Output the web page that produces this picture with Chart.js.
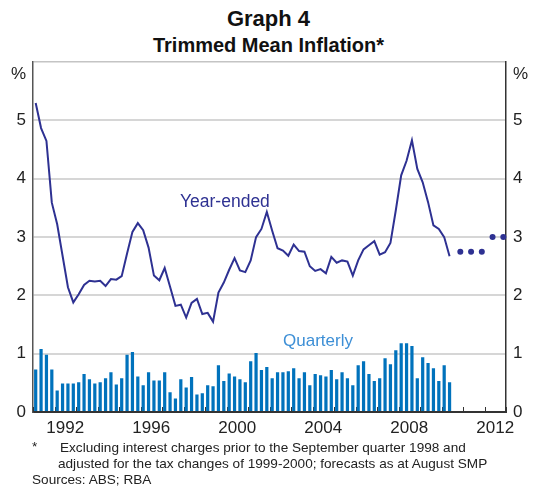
<!DOCTYPE html>
<html>
<head>
<meta charset="utf-8">
<script src="https://cdn.jsdelivr.net/npm/chart.js@4"></script>
<style>
  body { margin: 0; background: #fff; font-family: "Liberation Sans", Arial, sans-serif; color: #222; }
  #wrap { position: relative; width: 537px; height: 489px; overflow: hidden; }
  .t { position: absolute; left: 0; width: 537px; text-align: center; font-weight: bold; color: #111; white-space: nowrap; }
  #plot { position: absolute; left: 0; top: 45px; width: 537px; height: 400px; }
  .lbl { position: absolute; font-size: 17px; white-space: nowrap; }
  .note { position: absolute; font-size: 13.6px; white-space: nowrap; color: #222; }
</style>
</head>
<body>
<div id="wrap">
  <div class="t" style="top:6px;font-size:22px;">Graph 4</div>
  <div class="t" style="top:34px;font-size:20px;">Trimmed Mean Inflation*</div>
  <div id="plot"><canvas id="inflationChart"></canvas></div>
  <div class="lbl" style="left:180px;top:191px;color:#2e3192;font-size:17.5px;">Year-ended</div>
  <div class="lbl" style="left:283px;top:331px;color:#3d8fd6;">Quarterly</div>
  <div class="note" style="left:32px;top:439px;">*</div>
  <div class="note" style="left:60px;top:440px;">Excluding interest charges prior to the September quarter 1998 and</div>
  <div class="note" style="left:58px;top:456px;">adjusted for the tax changes of 1999-2000; forecasts as at August SMP</div>
  <div class="note" style="left:32px;top:472px;">Sources: ABS; RBA</div>
</div>
<script>
// quarterly data, Mar 1991 to Jun 2010
const firstYear = 1991;
const lastYear = 2012;
const quarterNames = ["Mar", "Jun", "Sep", "Dec"];

const yearEnded = [
    5.30, 4.87, 4.65, 3.59, 3.22, 2.68, 2.14, 1.88, 2.02, 2.18,
    2.25, 2.24, 2.25, 2.16, 2.28, 2.27, 2.33, 2.72, 3.09, 3.24,
    3.12, 2.82, 2.34, 2.26, 2.47, 2.15, 1.82, 1.84, 1.62, 1.87,
    1.94, 1.68, 1.70, 1.55, 2.05, 2.22, 2.44, 2.64, 2.43, 2.40,
    2.60, 3.00, 3.14, 3.43, 3.11, 2.81, 2.77, 2.68, 2.87, 2.76,
    2.75, 2.50, 2.42, 2.45, 2.38, 2.66, 2.56, 2.60, 2.58, 2.34,
    2.60, 2.79, 2.86, 2.93, 2.70, 2.74, 2.90, 3.46, 4.06, 4.31,
    4.66, 4.17, 3.94, 3.60, 3.20, 3.14, 3.00, 2.67
];

const quarterly = [
    0.73, 1.08, 0.98, 0.73, 0.37, 0.49, 0.49, 0.49, 0.51, 0.65,
    0.56, 0.49, 0.51, 0.58, 0.68, 0.47, 0.58, 0.98, 1.03, 0.61,
    0.46, 0.68, 0.54, 0.54, 0.68, 0.34, 0.23, 0.56, 0.42, 0.60,
    0.30, 0.32, 0.46, 0.44, 0.80, 0.53, 0.66, 0.61, 0.56, 0.51,
    0.87, 1.01, 0.72, 0.77, 0.58, 0.68, 0.68, 0.70, 0.75, 0.58,
    0.68, 0.46, 0.65, 0.63, 0.61, 0.72, 0.56, 0.68, 0.58, 0.46,
    0.80, 0.87, 0.65, 0.53, 0.58, 0.92, 0.82, 1.06, 1.18, 1.18,
    1.13, 0.58, 0.94, 0.84, 0.75, 0.53, 0.80, 0.51
];

const forecastQuarters = ["Dec 2010", "Jun 2011", "Dec 2011", "Jun 2012", "Dec 2012"];
const forecastValues = [2.75, 2.75, 2.75, 3.0, 3.0];

const yearLabels = [1992, 1996, 2000, 2004, 2008, 2012];
const yTickValues = [0, 1, 2, 3, 4, 5];

const quarters = [];
for (let y = firstYear; y <= lastYear; y++) {
    quarterNames.forEach(q => quarters.push(q + " " + y));
}

const lineColor = "#2e3192";
const barColor = "#0072bc";
const tickFont = { family: "'Liberation Sans', Arial, sans-serif", size: 17 };

// small tick marks pointing up into the plot, one per year
const yearTicks = {
    id: "yearTicks",
    beforeDatasetsDraw(chart) {
        const s = chart.scales.years;
        const ctx = chart.ctx;
        const bottom = chart.chartArea.bottom;
        ctx.save();
        ctx.strokeStyle = "#333";
        ctx.lineWidth = 1;
        for (let y = firstYear; y <= lastYear + 1; y++) {
            const x = Math.round(s.getPixelForValue(y)) + 0.5;
            ctx.beginPath();
            ctx.moveTo(x, bottom);
            ctx.lineTo(x, bottom - 5);
            ctx.stroke();
        }
        ctx.restore();
    }
};

function pctTicks(scale) {
    scale.ticks = yTickValues.concat([5.8, 6]).map(v => ({ value: v }));
}

function pctLabel(v) {
    if (v === 5.8) return "%";
    if (v === 6) return "";
    return v;
}

new Chart(document.getElementById("inflationChart"), {
    data: {
        labels: quarters,
        datasets: [
            {
                type: "line",
                label: "Year-ended",
                data: yearEnded,
                borderColor: lineColor,
                borderWidth: 2,
                pointRadius: 0,
                tension: 0,
                order: 1
            },
            {
                type: "line",
                label: "Forecast",
                data: forecastQuarters.map((q, i) => ({ x: q, y: forecastValues[i] })),
                showLine: false,
                pointRadius: 3,
                pointBackgroundColor: lineColor,
                pointBorderWidth: 0,
                order: 0
            },
            {
                type: "bar",
                label: "Quarterly",
                data: quarterly,
                backgroundColor: barColor,
                barPercentage: 0.6,
                categoryPercentage: 1,
                order: 2
            }
        ]
    },
    options: {
        responsive: true,
        maintainAspectRatio: false,
        animation: false,
        layout: { padding: 0 },
        plugins: {
            legend: { display: false },
            tooltip: { enabled: false }
        },
        scales: {
            x: {
                type: "category",
                display: false,
                offset: true
            },
            years: {
                type: "linear",
                position: "bottom",
                min: firstYear,
                max: lastYear + 1,
                afterBuildTicks: s => { s.ticks = yearLabels.map(y => ({ value: y + 0.5 })); },
                afterFit: s => { s.height = 33; },
                grid: { display: false, drawTicks: false },
                border: { color: "#333", width: 2 },
                ticks: {
                    autoSkip: false,
                    maxRotation: 0,
                    padding: 6,
                    color: "#222",
                    font: tickFont,
                    callback: v => String(v - 0.5)
                }
            },
            y: {
                position: "left",
                min: 0,
                max: 6,
                afterBuildTicks: pctTicks,
                afterFit: s => { s.width = 33; },
                grid: {
                    drawTicks: false,
                    color: c => c.tick.value === 5.8 ? "rgba(0,0,0,0)" : (c.tick.value === 6 ? "#c4c4c4" : "#d6d6d6"),
                    lineWidth: c => c.tick.value === 6 ? 1.5 : 2
                },
                border: { color: "#555", width: 1.5 },
                ticks: { padding: 7, color: "#222", font: tickFont, callback: pctLabel }
            },
            y2: {
                position: "right",
                min: 0,
                max: 6,
                afterBuildTicks: pctTicks,
                afterFit: s => { s.width = 31; },
                grid: { display: false, drawTicks: false },
                border: { color: "#333", width: 1.5 },
                ticks: { padding: 7, color: "#222", font: tickFont, callback: pctLabel }
            }
        }
    },
    plugins: [yearTicks]
});
</script>
</body>
</html>
